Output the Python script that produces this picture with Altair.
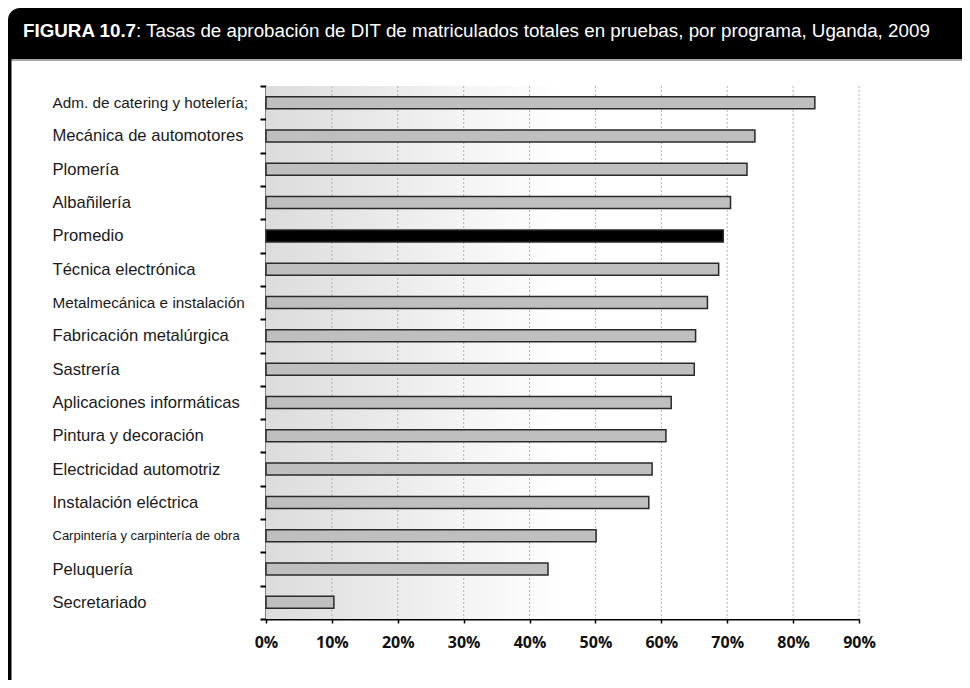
import altair as alt
import pandas as pd

# ---- data -------------------------------------------------------------
categories = [
    "Adm. de catering y hotelería;",
    "Mecánica de automotores",
    "Plomería",
    "Albañilería",
    "Promedio",
    "Técnica electrónica",
    "Metalmecánica e instalación",
    "Fabricación metalúrgica",
    "Sastrería",
    "Aplicaciones informáticas",
    "Pintura y decoración",
    "Electricidad automotriz",
    "Instalación eléctrica",
    "Carpintería y carpintería de obra",
    "Peluquería",
    "Secretariado",
]
values = [83.3, 74.2, 73.0, 70.5, 69.4, 68.7, 67.0, 65.2, 65.0,
          61.5, 60.7, 58.6, 58.1, 50.1, 42.8, 10.3]
x_ticks = [0, 10, 20, 30, 40, 50, 60, 70, 80, 90]
title_bold = "FIGURA 10.7"
title_rest = ": Tasas de aprobación de DIT de matriculados totales en pruebas, por programa, Uganda, 2009"

df = pd.DataFrame({"programa": categories, "tasa": values})
grid_df = pd.DataFrame({"t": x_ticks[1:]})

# ---- layout -----------------------------------------------------------
W, H = 593, 533
PAD = {"left": 258, "top": 78, "right": 103, "bottom": 61}

x_scale = alt.Scale(domain=[0, 90], nice=False, zero=True)

x_axis = alt.Axis(
    values=x_ticks, labelExpr="datum.value + '%'", title=None, grid=False,
    labelFlush=False,
    domainColor="black", domainWidth=2, tickColor="black", tickSize=4,
    tickWidth=1.5, labelFont="Open Sans", labelFontWeight="bold",
    labelFontSize=16, labelColor="#111111", labelPadding=11,
)

size_expr = (
    "datum.value == 'Carpintería y carpintería de obra' ? 13 : "
    "(datum.value == 'Metalmecánica e instalación' || "
    "datum.value == 'Adm. de catering y hotelería;') ? 15.3 : 16.6"
)

y_axis = alt.Axis(
    title=None, grid=False, domainColor="black", domainWidth=2,
    tickColor="black", tickWidth=2, tickSize=6, tickBand="extent",
    labelAlign="left", labelPadding=208, labelLimit=260,
    labelFont="Liberation Sans", labelFontSize={"expr": size_expr},
    labelColor="#1a1a1a",
)

# gradient background of the plot area
bg = alt.Chart(alt.Data(values=[{}])).mark_rect(
    color=alt.Gradient(
        gradient="linear", x1=0, x2=1, y1=0, y2=0,
        stops=[alt.GradientStop(color="#dcdcdc", offset=0),
               alt.GradientStop(color="#eeeeee", offset=0.25),
               alt.GradientStop(color="#ffffff", offset=0.5),
               alt.GradientStop(color="#ffffff", offset=1)],
    )
).encode(
    x=alt.X(datum=0, type="quantitative", scale=x_scale, axis=x_axis),
    x2=alt.datum(90),
    y=alt.value(0), y2=alt.value(H),
)

grid = alt.Chart(grid_df).mark_rule(
    color="#b3b3b3", strokeWidth=1, strokeDash=[2, 2]
).encode(
    x=alt.X("t:Q", scale=x_scale),
    y=alt.value(0), y2=alt.value(H),
)

bars = alt.Chart(df).mark_bar(
    size=12, stroke="#2a2a2a", strokeWidth=1.5
).encode(
    y=alt.Y("programa:N", sort=categories,
            scale=alt.Scale(paddingInner=0, paddingOuter=0), axis=y_axis),
    x=alt.X("tasa:Q", scale=x_scale),
    color=alt.condition(alt.datum.programa == "Promedio",
                        alt.value("#000000"), alt.value("#bfbfbf")),
)

# ---- frame & title bar ------------------------------------------------
one = alt.Data(values=[{}])
title_bar = alt.Chart(one).mark_rect(
    color="#000000", cornerRadiusTopLeft=12
).encode(
    x=alt.value(-PAD["left"]), x2=alt.value(W + PAD["right"]),
    y=alt.value(-PAD["top"]), y2=alt.value(-27),
)
title_line = alt.Chart(one).mark_rule(color="#8a8a8a", strokeWidth=1.5).encode(
    x=alt.value(-PAD["left"] + 3), x2=alt.value(W + PAD["right"]),
    y=alt.value(-26),
)
left_border = alt.Chart(one).mark_rect(color="#000000").encode(
    x=alt.value(-PAD["left"]), x2=alt.value(-PAD["left"] + 3.5),
    y=alt.value(-30), y2=alt.value(H + PAD["bottom"]),
)
t1 = alt.Chart(one).mark_text(
    text=title_bold, font="Liberation Sans", fontWeight="bold", fontSize=18.8,
    color="white", align="left", baseline="alphabetic",
).encode(x=alt.value(-243), y=alt.value(-49))
t2 = alt.Chart(one).mark_text(
    text=title_rest, font="Liberation Sans", fontSize=18.8,
    color="white", align="left", baseline="alphabetic",
).encode(x=alt.value(-130), y=alt.value(-49))

chart = alt.layer(
    bg, grid, bars, title_bar, title_line, left_border, t1, t2
).properties(
    width=W, height=H,
    autosize=alt.AutoSizeParams(type="none"),
    padding=PAD,
    background="white",
).configure_view(stroke=None)

chart.save("out.html", embed_options={"renderer": "svg", "actions": False})
